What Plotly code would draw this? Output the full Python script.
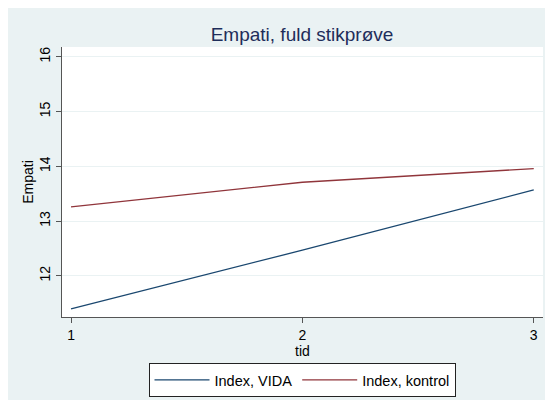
import plotly.graph_objects as go

tid = [1, 2, 3]
vida = [11.40, 12.47, 13.57]
kontrol = [13.26, 13.71, 13.96]
y_ticks = [12, 13, 14, 15, 16]
x_ticks = [1, 2, 3]

BLUE = "#1a476f"
RED = "#90353b"
BG = "#eaf2f3"
FONT = "Liberation Sans, Arial, sans-serif"

fig = go.Figure()
fig.add_trace(go.Scatter(x=tid, y=vida, mode="lines", name="Index, VIDA",
                         line=dict(color=BLUE, width=1.3)))
fig.add_trace(go.Scatter(x=tid, y=kontrol, mode="lines", name="Index, kontrol",
                         line=dict(color=RED, width=1.3)))

W, H = 545, 392
L, R, T, B = 54, 10, 39, 83
pw, ph = W - L - R, H - T - B

def px(x):
    return (x - L) / pw

def py(y):
    return (H - B - y) / ph

fig.update_layout(
    width=W, height=H,
    margin=dict(l=L, r=R, t=T, b=B, autoexpand=False),
    paper_bgcolor=BG, plot_bgcolor="white",
    font=dict(family=FONT, size=12, color="#000000"),
    title=dict(text="Empati, fuld stikprøve", x=294 / W, xanchor="center",
               y=1 - 26 / H, yanchor="middle",
               font=dict(size=19, color="#1e2d5a", family=FONT)),
    showlegend=True,
    legend=dict(orientation="h", x=px(294), xanchor="center",
                y=py(355), yanchor="top",
                bgcolor="white", bordercolor="#222222", borderwidth=1,
                font=dict(size=14.5, family=FONT), itemwidth=55,
                tracegroupgap=0),
    xaxis=dict(range=[0.961, 3.04], tickvals=x_ticks, showgrid=False,
               automargin=False,
               zeroline=False, showline=True, linecolor="#555555", linewidth=1,
               ticks="outside", ticklen=5, tickcolor="#555555",
               tickfont=dict(size=14), title=dict(text="tid", standoff=0,
                                                   font=dict(size=14))),
    yaxis=dict(range=[11.25, 16.18], tickvals=y_ticks, showgrid=True,
               automargin=False,
               gridcolor=BG, gridwidth=1, zeroline=False, showline=True,
               linecolor="#555555", linewidth=1, ticks="outside", ticklen=5,
               tickcolor="#555555", tickangle=-90, tickfont=dict(size=14),
               title=dict(text="Empati", standoff=0, font=dict(size=14))),
)

fig.write_html("out.html")
